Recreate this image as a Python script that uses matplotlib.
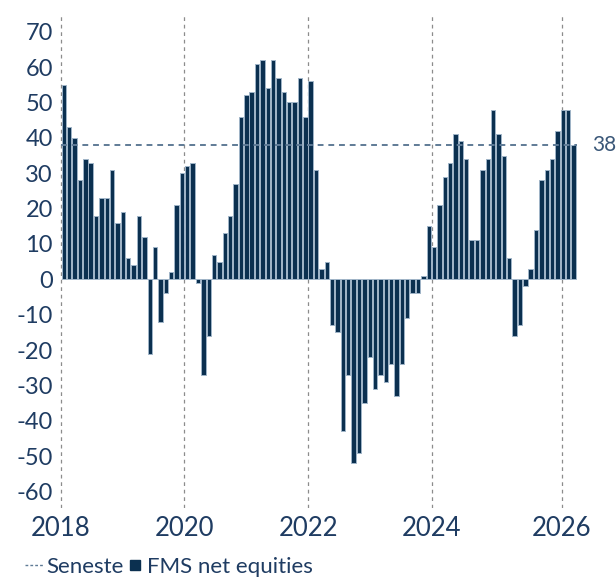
import matplotlib
matplotlib.use("Agg")
import matplotlib.pyplot as plt
from matplotlib.lines import Line2D

# FMS net equities, one bar per survey (2018 -> 2026)
net_equities = [
    55, 43, 40, 28, 34, 33, 18, 23, 23, 31, 16, 19,
    6, 4, 18, 12, -21, 9, -12, -4, 2, 21, 30, 32,
    33, -1, -27, -16, 7, 5, 13, 18, 27, 46, 52, 53,
    61, 62, 54, 62, 57, 53, 50, 50, 57, 46, 56, 31,
    3, 5, -13, -15, -43, -27, -52, -49, -35, -22, -31, -27,
    -29, -24, -33, -24, -11, -4, -4, 1, 15, 9, 21, 29,
    33, 41, 39, 34, 11, 11, 31, 34, 48, 41, 35, 6,
    -16, -13, -2, 3, 14, 28, 31, 34, 42, 48, 48, 38,
]
latest = 38
year_labels = ["2018", "2020", "2022", "2024", "2026"]
y_ticks = list(range(-60, 71, 10))

# where the year gridlines fall, in bar units
YEAR_POS = [-0.55, 22.45, 45.55, 68.6, 92.75]

BAR_COLOR = "#0b3050"
EDGE_COLOR = "#9fb4c8"
TEXT_COLOR = "#1f3c62"
LINE_COLOR = "#5f7b96"

plt.rcParams["font.family"] = ["Lato", "DejaVu Sans"]

fig = plt.figure(figsize=(6.16, 5.81), dpi=100)
ax = fig.add_axes([57 / 616, 1 - 508 / 581, (583 - 57) / 616, (508 - 13) / 581])

x = list(range(len(net_equities)))
ax.bar(x, net_equities, width=0.82, color=BAR_COLOR,
       edgecolor=EDGE_COLOR, linewidth=0.7, zorder=2)

# vertical year gridlines
for xp in YEAR_POS:
    ax.axvline(xp, color="#8c8c8c", linestyle=(0, (3, 3)), linewidth=0.9, zorder=1)

# latest value line
ax.hlines(latest, -0.5, len(net_equities) - 0.4, colors=LINE_COLOR,
          linestyles=(0, (3, 2.5)), linewidth=1.4, zorder=3)
ax.annotate(str(latest), xy=(len(net_equities) - 0.4, latest), xytext=(11, 0),
            textcoords="offset points", va="center", ha="left",
            fontsize=15, color="#3a5778", annotation_clip=False)

ax.set_xlim(-1.28, 96.75)
ax.set_ylim(-64.66, 75.29)
ax.set_yticks(y_ticks)
ax.set_yticklabels([str(v) for v in y_ticks])
ax.set_xticks(YEAR_POS)
ax.set_xticklabels(year_labels)

for s in ax.spines.values():
    s.set_visible(False)
ax.tick_params(axis="both", length=0, colors=TEXT_COLOR)
ax.tick_params(axis="y", labelsize=17, pad=3)
ax.tick_params(axis="x", labelsize=18.5, pad=6)

handles = [
    Line2D([0], [0], color=LINE_COLOR, linestyle=(0, (2, 1.5)), linewidth=1.0),
    Line2D([0], [0], color=BAR_COLOR, marker="s", linestyle="none", markersize=7),
]
fig.legend(handles, ["Seneste", "FMS net equities"], loc="lower left",
           bbox_to_anchor=(14 / 616, -0.012), ncol=2, frameon=False,
           fontsize=16, handlelength=0.8, handletextpad=0.15,
           columnspacing=0.1, borderpad=0, labelcolor=TEXT_COLOR)

plt.savefig("out.png", dpi=100)
